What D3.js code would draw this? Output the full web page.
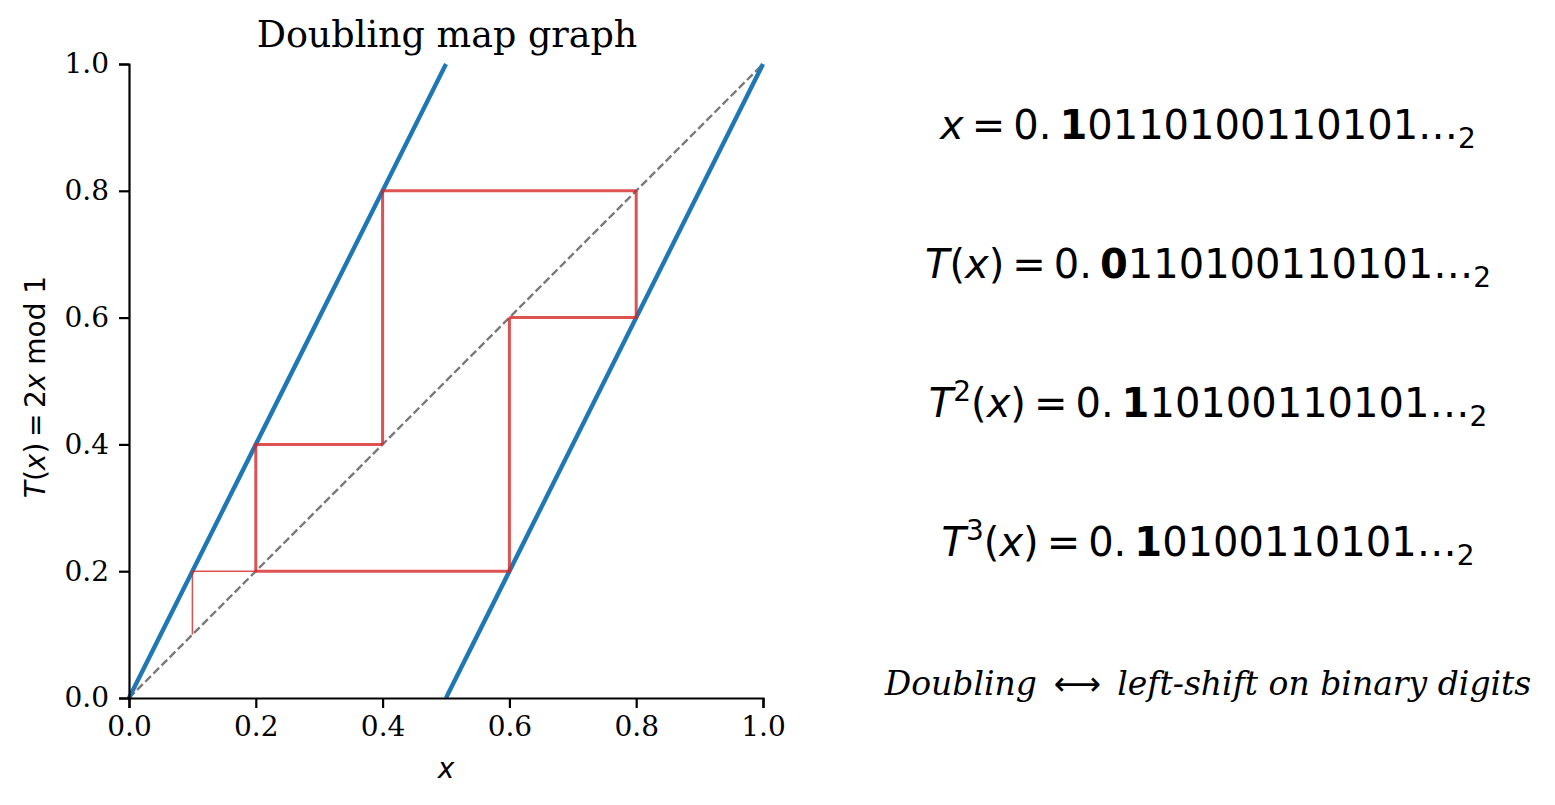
<!DOCTYPE html>
<html lang="en">
<head>
  <meta charset="UTF-8">
  <title>Doubling map graph</title>
  <script src="https://d3js.org/d3.v7.min.js"></script>
  <style>
    body {
      margin: 0;
      background: #fff;
    }
    svg text {
      fill: #000;
    }
  </style>
</head>
<body>
  <svg id="chart" width="1555" height="805"></svg>

  <script>
    // Chart values.
    const xTicks = [0, 0.2, 0.4, 0.6, 0.8, 1.0];
    const yTicks = [0, 0.2, 0.4, 0.6, 0.8, 1.0];
    const branchLeft = [[0, 0], [0.5, 1]];
    const branchRight = [[0.5, 0], [1, 1]];
    const diagonal = [[0, 0], [1, 1]];
    // Orbit of x0 = 0.1 under T(x) = 2x mod 1.
    const orbit = [0.1, 0.2, 0.4, 0.8, 0.6, 0.2];
    // Binary expansions shown on the right: bold leading digit, then the rest.
    const expansions = [
      { lhs: "x", power: null, bold: "1", rest: "0110100110101" },
      { lhs: "T(x)", power: null, bold: "0", rest: "110100110101" },
      { lhs: "T(x)", power: "2", bold: "1", rest: "10100110101" },
      { lhs: "T(x)", power: "3", bold: "1", rest: "0100110101" }
    ];

    const svg = d3.select("#chart");
    const margin = { top: 64, left: 129 };
    const size = 634;

    const g = svg.append("g")
                 .attr("transform", `translate(${margin.left}, ${margin.top})`);

    const x = d3.scaleLinear().domain([0, 1]).range([0, size]);
    const y = d3.scaleLinear().domain([0, 1]).range([size, 0]);
    const line = d3.line().x(d => x(d[0])).y(d => y(d[1]));

    // Diagonal y = x.
    g.append("path")
     .attr("d", line(diagonal))
     .attr("fill", "none")
     .attr("stroke", "#7a7a7a")
     .attr("stroke-width", 2.4)
     .attr("stroke-dasharray", "8,3.5");

    // Map branches.
    [branchLeft, branchRight].forEach(b => {
      g.append("path")
       .attr("d", line(b))
       .attr("fill", "none")
       .attr("stroke", "#1f77b4")
       .attr("stroke-width", 4.4);
    });

    // Cobweb: vertical to the graph, then horizontal to the diagonal.
    for (let i = 0; i < orbit.length - 1; i++) {
      const a = orbit[i], b = orbit[i + 1];
      g.append("path")
       .attr("d", line([[a, a], [a, b], [b, b]]))
       .attr("fill", "none")
       .attr("stroke", "#d62728")
       .attr("stroke-opacity", 0.8)
       .attr("stroke-width", i === 0 ? 1.5 : 3);
    }

    // Axes.
    const xAxis = g.append("g")
     .attr("transform", `translate(0, ${size})`)
     .call(d3.axisBottom(x).tickValues(xTicks).tickFormat(d3.format(".1f")).tickSize(10).tickPadding(8));
    const yAxis = g.append("g")
     .call(d3.axisLeft(y).tickValues(yTicks).tickFormat(d3.format(".1f")).tickSize(10).tickPadding(10));
    [xAxis, yAxis].forEach(ax => {
      ax.select(".domain").attr("stroke-width", 2.2);
      ax.selectAll(".tick line").attr("stroke-width", 2.2);
      ax.selectAll("text")
        .attr("font-family", "DejaVu Serif")
        .attr("font-size", 28);
    });

    // Title.
    svg.append("text")
       .attr("x", margin.left + size / 2 + 1)
       .attr("y", 47)
       .attr("text-anchor", "middle")
       .attr("font-family", "DejaVu Serif")
       .attr("font-size", 36.5)
       .text("Doubling map graph");

    // x label.
    svg.append("text")
       .attr("x", margin.left + size / 2)
       .attr("y", 778)
       .attr("text-anchor", "middle")
       .attr("font-family", "DejaVu Sans")
       .attr("font-style", "italic")
       .attr("font-size", 28)
       .text("x");

    // y label.
    const yl = svg.append("text")
       .attr("transform", `translate(45, ${margin.top + size / 2 + 6}) rotate(-90)`)
       .attr("text-anchor", "middle")
       .attr("font-family", "DejaVu Sans")
       .attr("font-size", 28);
    yl.append("tspan").attr("font-style", "italic").text("T");
    yl.append("tspan").text("(");
    yl.append("tspan").attr("font-style", "italic").text("x");
    yl.append("tspan").text(")\u2009=\u20092");
    yl.append("tspan").attr("font-style", "italic").text("x");
    yl.append("tspan").text(" mod 1");

    // Binary expansions.
    const cx = 1208;
    expansions.forEach((e, i) => {
      const t = svg.append("text")
         .attr("x", cx)
         .attr("y", 139 + i * 139)
         .attr("text-anchor", "middle")
         .attr("font-family", "DejaVu Sans")
         .attr("font-size", 40);
      if (e.lhs === "x") {
        t.append("tspan").attr("font-style", "italic").text("x");
      } else {
        t.append("tspan").attr("font-style", "italic").text("T");
        if (e.power) {
          t.append("tspan").attr("font-size", 28).attr("dy", -16).text(e.power);
          t.append("tspan").attr("dy", 16).text("(");
        } else {
          t.append("tspan").text("(");
        }
        t.append("tspan").attr("font-style", "italic").text("x");
        t.append("tspan").text(")");
      }
      t.append("tspan").text("\u2009=\u20090.\u2009");
      t.append("tspan").attr("font-weight", "bold").text(e.bold);
      t.append("tspan").text(e.rest + "\u2026");
      t.append("tspan").attr("font-size", 28).attr("dy", 9).text("2");
    });

    // Caption.
    const cap = svg.append("text")
       .attr("x", cx)
       .attr("y", 695)
       .attr("text-anchor", "middle")
       .attr("font-family", "DejaVu Serif")
       .attr("font-style", "italic")
       .attr("font-size", 33);
    cap.append("tspan").text("Doubling\u2002");
    cap.append("tspan").attr("font-style", "normal").attr("font-family", "DejaVu Sans").text("\u27F7");
    cap.append("tspan").text("\u2002left-shift on binary digits");
  </script>
</body>
</html>
